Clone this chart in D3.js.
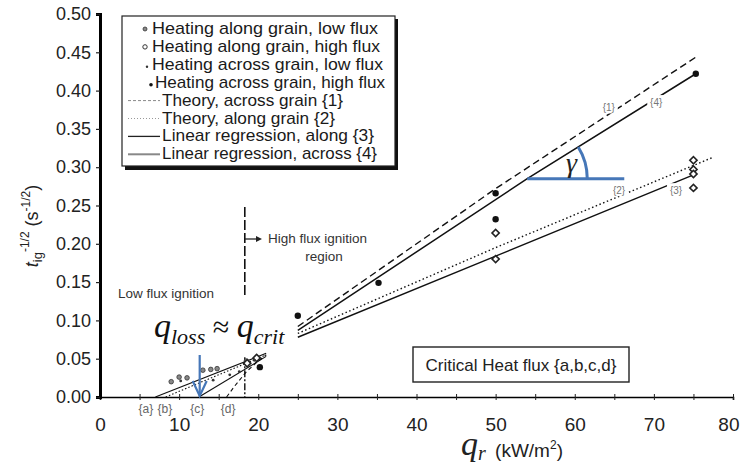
<!DOCTYPE html>
<html><head><meta charset="utf-8">
<script src="https://cdn.jsdelivr.net/npm/d3@7"></script>
<style>
body{margin:0;background:#fff;}
svg{display:block;font-family:Arial,"Liberation Sans",sans-serif;}
</style></head>
<body><svg id="c" width="740" height="463"></svg>
<script>
// ---- data ----
const xTicks = [0,10,20,30,40,50,60,70,80];
const xMinorTicks = [5,15,25,35,45,55,65,75];
const yTicks = [0,0.05,0.10,0.15,0.20,0.25,0.30,0.35,0.40,0.45,0.50];

const alongLowX = [9.0,10.0,11.0,13.0,14.0,14.8,18.5];
const alongLowY = [0.020,0.026,0.025,0.035,0.036,0.037,0.047];
const alongHighX = [18.6,19.8,50,50,75,75,75,75];
const alongHighY = [0.044,0.051,0.214,0.180,0.309,0.297,0.291,0.273];
const acrossLowX = [10.2,14.3,16.4,17.6,19.5];
const acrossLowY = [0.021,0.022,0.029,0.033,0.048];
const acrossHighX = [20.2,25,35.2,50,50,75.3];
const acrossHighY = [0.039,0.106,0.149,0.266,0.232,0.422];

// lines: [q, t^-1/2]
const theoryAcross1 = [[25,0.092],[50,0.272],[75.5,0.445]];
const theoryAlong2 = [[25,0.083],[50,0.195],[77.5,0.313]];
const regAlong3 = [[25,0.078],[50,0.184],[75,0.290]];
const regAcross4 = [[25,0.087],[54,0.285],[75.3,0.422]];
const lowA = [[7,0],[21,0.057]];
const lowB = [[8.3,0],[21,0.055]];
const lowC = [[12.5,0],[21,0.053]];
const lowD = [[16,0],[17,0.014],[18.5,0.033],[20,0.047],[21,0.055]];
const critX = 18.3;

const legendLabels = ["Heating along grain, low flux","Heating along grain, high flux",
  "Heating across grain, low flux","Heating across grain, high flux",
  "Theory, across grain {1}","Theory, along grain {2}",
  "Linear regression, along {3}","Linear regression, across {4}"];
const lineLabels = [["{1}",64.3,0.378],["{4}",70.3,0.385],["{2}",65.6,0.270],["{3}",72.8,0.270]];
const critLabels = [["{a}",5.8],["{b}",8.2],["{c}",12.3],["{d}",16.2]];

// ---- layout helpers (not data) ----
const legendTextStart = [152,152,152,155,162,162,162,162];
const legendTextEnd = [378,380,383,385,343,335,374,377];

// ---- drawing ----
const svg = d3.select("#c");
const x = d3.scaleLinear().domain([0,80]).range([100,733]);
const y = d3.scaleLinear().domain([0,0.5]).range([397,14]);
const blue = "#4677b8";

// axes
const gx = svg.append("g").attr("transform","translate(0,397)")
  .call(d3.axisBottom(x).tickValues(xTicks.concat(xMinorTicks)).tickSize(3)
    .tickFormat(v => xTicks.includes(v) ? v : ""));
gx.select(".domain").attr("stroke","#000").attr("stroke-width",1.6);
gx.selectAll(".tick line").attr("y1",-3).attr("y2",3).attr("stroke","#222");
gx.selectAll(".tick text").attr("y",21).attr("font-size",19).attr("fill","#222")
  .attr("font-family","Arial,'Liberation Sans',sans-serif")
  .filter(d=>d===80).attr("text-anchor","end").attr("x",6);

const gy = svg.append("g").attr("transform","translate(100,0)")
  .call(d3.axisLeft(y).tickValues(yTicks).tickSize(4).tickPadding(5).tickFormat(d3.format(".2f")));
gy.select(".domain").attr("stroke","#000").attr("stroke-width",3);
gy.selectAll(".tick line").attr("stroke","#222").attr("stroke-width",1.2);
gy.selectAll(".tick text").attr("font-size",18).attr("fill","#222")
  .attr("font-family","Arial,'Liberation Sans',sans-serif");

// y title
const yt = svg.append("text").attr("transform","translate(38,226) rotate(-90)")
  .attr("text-anchor","middle").attr("font-size",18).attr("fill","#222");
yt.append("tspan").text("t").attr("font-style","italic");
yt.append("tspan").text("ig").attr("font-size",13).attr("dy",4);
yt.append("tspan").text("-1/2").attr("font-size",12).attr("dy",-13);
yt.append("tspan").text(" (s").attr("dy",9);
yt.append("tspan").text("-1/2").attr("font-size",12).attr("dy",-8);
yt.append("tspan").text(")").attr("dy",8);

// x title
const ser = "'Liberation Serif','Times New Roman',serif";
const xt = svg.append("text").attr("x",461).attr("y",455).attr("fill","#222");
xt.append("tspan").text("q").attr("font-family",ser).attr("font-style","italic").attr("font-size",34);
xt.append("tspan").text("r").attr("font-family",ser).attr("font-style","italic").attr("font-size",20).attr("dy",5);
xt.append("tspan").text(" (kW/m").attr("font-size",19).attr("dy",-3).attr("dx",4);
xt.append("tspan").text("2").attr("font-size",12).attr("dy",-8);
xt.append("tspan").text(")").attr("font-size",19).attr("dy",8);

const line = d3.line().x(d=>x(d[0])).y(d=>y(d[1]));
const drawLine = (pts, dash, w, col) => svg.append("path").attr("d",line(pts))
  .attr("fill","none").attr("stroke",col||"#111").attr("stroke-width",w||1.3)
  .attr("stroke-dasharray",dash||null);

drawLine(theoryAcross1,"7,4",1.4);
drawLine(theoryAlong2,"1.5,2.5",1.4);
drawLine(regAlong3,null,1.4);
drawLine(regAcross4,null,1.5);
drawLine(lowA,null,1.1);
drawLine(lowB,"1.5,2",1.1);
drawLine(lowC,null,1.1);
drawLine(lowD,"4,3",1.1);

// critical vertical dashed line
svg.append("line").attr("x1",x(critX)).attr("x2",x(critX)).attr("y1",y(0.248)).attr("y2",y(0.13))
  .attr("stroke","#111").attr("stroke-width",1.6).attr("stroke-dasharray","10,3");
svg.append("line").attr("x1",x(critX)).attr("x2",x(critX)).attr("y1",y(0.052)).attr("y2",y(0))
  .attr("stroke","#111").attr("stroke-width",1.4).attr("stroke-dasharray","7,2,2,2");

// line labels with white background
lineLabels.forEach(([t,qx,qy])=>{
  svg.append("rect").attr("x",x(qx)-9).attr("y",y(qy)-7).attr("width",18).attr("height",13).attr("fill","#fff");
  svg.append("text").attr("x",x(qx)).attr("y",y(qy)+4).attr("text-anchor","middle")
    .attr("font-size",10).attr("fill","#777").text(t);
});
critLabels.forEach(([t,qx])=>{
  svg.append("text").attr("x",x(qx)).attr("y",413).attr("text-anchor","middle")
    .attr("font-size",12).attr("fill","#666").text(t);
});

// markers
const pts = (xs,ys)=>xs.map((v,i)=>[v,ys[i]]);
svg.selectAll(".aL").data(pts(alongLowX,alongLowY)).join("circle")
  .attr("cx",d=>x(d[0])).attr("cy",d=>y(d[1])).attr("r",2.3).attr("fill","#888").attr("stroke","#333").attr("stroke-width",0.8);
svg.selectAll(".aH").data(pts(alongHighX,alongHighY)).join("path")
  .attr("transform",d=>`translate(${x(d[0])},${y(d[1])}) rotate(45)`)
  .attr("d",d3.symbol().type(d3.symbolSquare).size(26)())
  .attr("fill","#fff").attr("stroke","#222").attr("stroke-width",1.6);
svg.selectAll(".cL").data(pts(acrossLowX,acrossLowY)).join("circle")
  .attr("cx",d=>x(d[0])).attr("cy",d=>y(d[1])).attr("r",1.4).attr("fill","#333");
svg.selectAll(".cH").data(pts(acrossHighX,acrossHighY)).join("circle")
  .attr("cx",d=>x(d[0])).attr("cy",d=>y(d[1])).attr("r",3.2).attr("fill","#111");

// legend
const lg = svg.append("g");
lg.append("rect").attr("x",125).attr("y",19).attr("width",273).attr("height",151).attr("fill","#111");
lg.append("rect").attr("x",122).attr("y",16).attr("width",273).attr("height",150).attr("fill","#fff")
  .attr("stroke","#222").attr("stroke-width",1.2);
legendLabels.forEach((t,i)=>{
  const by = 34 + i*17.9;
  lg.append("text").attr("x",legendTextStart[i]).attr("y",by).attr("font-size",17).attr("fill","#1a1a1a")
    .attr("textLength",legendTextEnd[i]-legendTextStart[i]).attr("lengthAdjust","spacingAndGlyphs").text(t);
  const cy = by-5;
  if(i===0) lg.append("circle").attr("cx",145).attr("cy",cy).attr("r",2).attr("fill","#888").attr("stroke","#333").attr("stroke-width",0.8);
  if(i===1) lg.append("circle").attr("cx",145).attr("cy",cy).attr("r",2.2).attr("fill","#fff").attr("stroke","#333").attr("stroke-width",1);
  if(i===2) lg.append("circle").attr("cx",147).attr("cy",cy+2).attr("r",1.2).attr("fill","#333");
  if(i===3) lg.append("circle").attr("cx",151).attr("cy",cy+2).attr("r",1.8).attr("fill","#111");
  const styles = {4:["#888","3,2",1],5:["#999","1,2",1],6:["#222",null,1.3],7:["#888",null,2]};
  if(styles[i]) lg.append("line").attr("x1",128).attr("x2",160).attr("y1",cy).attr("y2",cy)
    .attr("stroke",styles[i][0]).attr("stroke-dasharray",styles[i][1]).attr("stroke-width",styles[i][2]);
});

// annotations
svg.append("text").attr("x",118).attr("y",298).attr("font-size",13.5).attr("fill","#333").text("Low flux ignition");
svg.append("text").attr("x",268).attr("y",243).attr("font-size",13.5).attr("fill","#333").text("High flux ignition");
svg.append("text").attr("x",324).attr("y",261).attr("text-anchor","middle").attr("font-size",13.5).attr("fill","#333").text("region");
svg.append("line").attr("x1",x(critX)).attr("x2",258).attr("y1",239).attr("y2",239).attr("stroke","#222").attr("stroke-width",1.3);
svg.append("path").attr("d","M262,239 L256,236 L256,242 Z").attr("fill","#222");

// critical heat flux box
svg.append("rect").attr("x",413).attr("y",347).attr("width",216).attr("height",35).attr("fill","#fff")
  .attr("stroke","#222").attr("stroke-width",1.4);
svg.append("text").attr("x",521).attr("y",371).attr("text-anchor","middle").attr("font-size",17).attr("fill","#222")
  .text("Critical Heat flux {a,b,c,d}");

// q_loss ≈ q_crit
const qt = svg.append("text").attr("x",154).attr("y",337).attr("font-family",ser).attr("fill","#111");
qt.append("tspan").text("q").attr("font-style","italic").attr("font-size",34);
qt.append("tspan").text("loss").attr("font-style","italic").attr("font-size",22).attr("dy",7);
qt.append("tspan").text(" ≈ ").attr("font-size",30).attr("dy",-7);
qt.append("tspan").text("q").attr("font-style","italic").attr("font-size",34);
qt.append("tspan").text("crit").attr("font-style","italic").attr("font-size",22).attr("dy",7);

// blue arrow at q_loss
svg.append("line").attr("x1",x(12.6)).attr("x2",x(12.6)).attr("y1",355).attr("y2",396).attr("stroke",blue).attr("stroke-width",2.2);
svg.append("path").attr("d",`M${x(12.6)-7},381 L${x(12.6)},396 L${x(12.6)+7},381`).attr("fill","none").attr("stroke",blue).attr("stroke-width",2.2);

// gamma angle
const vx = x(54), vy = y(0.285);
svg.append("line").attr("x1",vx).attr("x2",vx+97).attr("y1",vy).attr("y2",vy).attr("stroke",blue).attr("stroke-width",3);
const ang = Math.atan2(y(0.285)-y(0.422), x(75.3)-x(54));
const R = 60;
svg.append("path").attr("d",`M${vx+R},${vy} A${R},${R} 0 0 0 ${vx+R*Math.cos(ang)},${vy-R*Math.sin(ang)}`)
  .attr("fill","none").attr("stroke",blue).attr("stroke-width",3);
svg.append("text").attr("x",566).attr("y",172).attr("font-family",ser).attr("font-style","italic")
  .attr("font-size",28).attr("fill","#222").text("γ");
</script></body></html>
